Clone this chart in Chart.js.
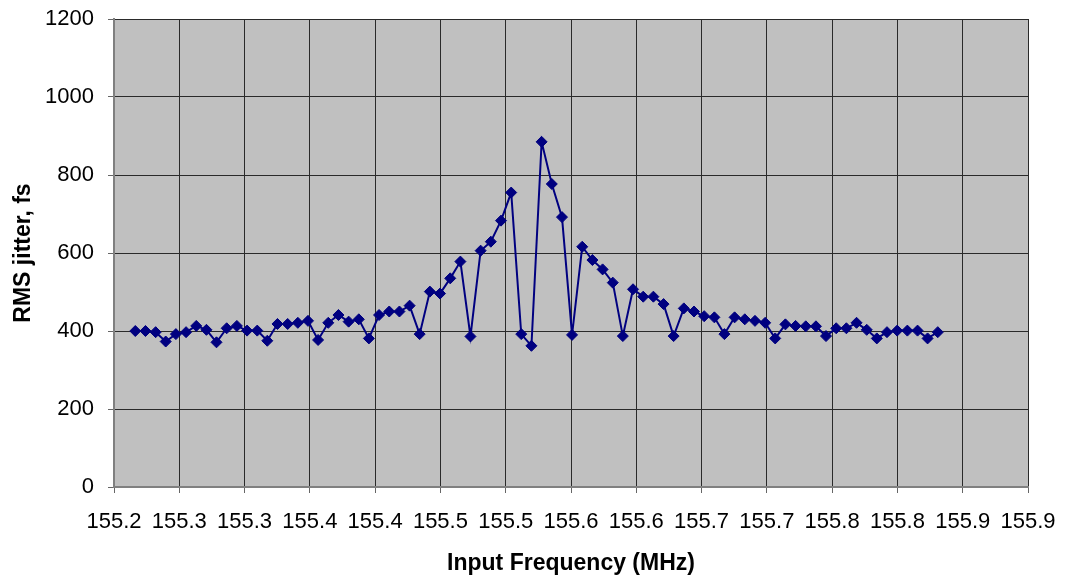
<!DOCTYPE html>
<html>
<head>
<meta charset="utf-8">
<script src="https://cdn.jsdelivr.net/npm/chart.js@4/dist/chart.umd.min.js"></script>
<style>
  html, body { margin: 0; padding: 0; background: #ffffff; }
  #wrap { width: 1065px; height: 580px; position: relative; }
</style>
</head>
<body>
<div id="wrap"><canvas id="c"></canvas></div>
<script>
const frequencies = [
  155.2163, 155.2241, 155.2319, 155.2396, 155.2474, 155.2552, 155.2630, 155.2708, 155.2785, 155.2863,
  155.2941, 155.3019, 155.3097, 155.3174, 155.3252, 155.3330, 155.3408, 155.3486, 155.3563, 155.3641,
  155.3719, 155.3797, 155.3875, 155.3952, 155.4030, 155.4108, 155.4186, 155.4264, 155.4341, 155.4419,
  155.4497, 155.4575, 155.4653, 155.4730, 155.4808, 155.4886, 155.4964, 155.5042, 155.5119, 155.5197,
  155.5275, 155.5353, 155.5431, 155.5508, 155.5586, 155.5664, 155.5742, 155.5820, 155.5897, 155.5975,
  155.6053, 155.6131, 155.6209, 155.6286, 155.6364, 155.6442, 155.6520, 155.6598, 155.6675, 155.6753,
  155.6831, 155.6909, 155.6987, 155.7064, 155.7142, 155.7220, 155.7298, 155.7376, 155.7453, 155.7531,
  155.7609, 155.7687, 155.7765, 155.7842, 155.7920, 155.7998, 155.8076, 155.8154, 155.8231, 155.8309
];
const rmsJitter = [
  400, 400, 397, 373, 392, 397, 413, 403, 371, 407,
  413, 401, 401, 375, 418, 418, 421, 426, 377, 421,
  441, 424, 430, 381, 441, 450, 450, 465, 392, 501,
  496, 535, 578, 386, 606, 629, 683, 755, 392, 362,
  885, 777, 692, 390, 616, 582, 558, 524, 387, 507,
  488, 488, 469, 387, 458, 450, 438, 435, 392, 435,
  430, 426, 421, 381, 417, 413, 412, 412, 387, 407,
  407, 421, 403, 381, 397, 401, 401, 401, 381, 397
];
const xTickValues = [155.20, 155.25, 155.30, 155.35, 155.40, 155.45, 155.50, 155.55, 155.60, 155.65, 155.70, 155.75, 155.80, 155.85, 155.90];
const xTickLabels = ['155.2', '155.3', '155.3', '155.4', '155.4', '155.5', '155.5', '155.6', '155.6', '155.7', '155.7', '155.8', '155.8', '155.9', '155.9'];
const yTickValues = [0, 200, 400, 600, 800, 1000, 1200];
const yTickLabels = ['0', '200', '400', '600', '800', '1000', '1200'];
const xTitle = 'Input Frequency (MHz)';
const yTitle = 'RMS jitter, fs';

const plotBg = {
  id: 'plotBg',
  beforeDraw(chart) {
    const {ctx, chartArea: a} = chart;
    ctx.save();
    ctx.fillStyle = '#C0C0C0';
    ctx.fillRect(a.left, a.top, a.right - a.left, a.bottom - a.top);
    ctx.restore();
  }
};

const FONT = "'Liberation Sans', Arial, sans-serif";

new Chart(document.getElementById('c'), {
  type: 'line',
  data: {
    datasets: [{
      data: frequencies.map((f, i) => ({x: f, y: rmsJitter[i]})),
      borderColor: '#000080',
      backgroundColor: '#000080',
      borderWidth: 2,
      pointStyle: 'rectRot',
      pointRadius: 5.5,
      pointBorderWidth: 1,
      pointBorderColor: '#000080',
      pointBackgroundColor: '#000080',
      tension: 0,
      fill: false
    }]
  },
  options: {
    responsive: true,
    maintainAspectRatio: false,
    animation: false,
    layout: { padding: { top: 19, right: 37, left: 0, bottom: 0 } },
    plugins: { legend: { display: false }, tooltip: { enabled: false } },
    scales: {
      x: {
        type: 'linear',
        min: 155.2,
        max: 155.9,
        afterBuildTicks(scale) { scale.ticks = xTickValues.map(v => ({value: v})); },
        afterFit(scale) { scale.height = 93; scale.paddingLeft = 0; scale.paddingRight = 0; },
        ticks: {
          color: '#000',
          font: { family: FONT, size: 22 },
          padding: 16,
          maxRotation: 0,
          autoSkip: false,
          callback: (v, i) => xTickLabels[i]
        },
        grid: { color: '#2a2a2a', lineWidth: 1, tickLength: 6, tickColor: '#666666' },
        border: { display: true, color: '#808080', width: 2 },
        title: {
          display: true,
          text: xTitle,
          color: '#000',
          font: { family: FONT, size: 23, weight: 'bold' },
          padding: { top: 0, bottom: 3 }
        }
      },
      y: {
        type: 'linear',
        min: 0,
        max: 1200,
        afterBuildTicks(scale) { scale.ticks = yTickValues.map(v => ({value: v})); },
        afterFit(scale) { scale.width = 114; scale.paddingTop = 0; scale.paddingBottom = 0; },
        ticks: {
          color: '#000',
          font: { family: FONT, size: 22 },
          padding: 14,
          callback: (v, i) => yTickLabels[i]
        },
        grid: { color: '#2a2a2a', lineWidth: 1, tickLength: 6, tickColor: '#666666' },
        border: { display: true, color: '#808080', width: 2 },
        title: {
          display: true,
          text: yTitle,
          color: '#000',
          font: { family: FONT, size: 23, weight: 'bold' },
          padding: { top: 10, bottom: 0 }
        }
      }
    }
  },
  plugins: [plotBg]
});
</script>
</body>
</html>
